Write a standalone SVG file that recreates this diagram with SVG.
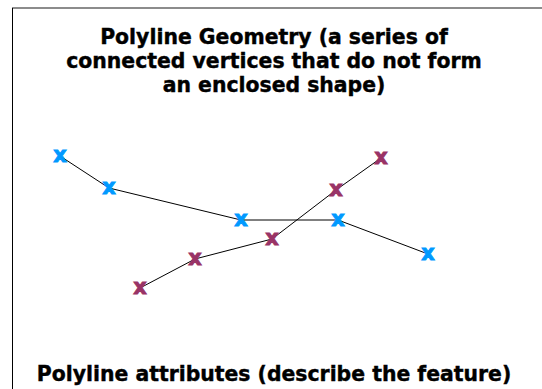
<svg xmlns="http://www.w3.org/2000/svg" width="542" height="389" viewBox="0 0 542 389">
<style>
.t{font-family:"DejaVu Sans",Verdana,sans-serif;font-weight:bold;font-size:20.4px;fill:#000;stroke:#000;stroke-width:0.4;text-anchor:middle}
.m{font-family:"DejaVu Sans",Verdana,sans-serif;font-weight:bold;font-size:21px;stroke-width:0.9;text-anchor:middle}
.b{fill:#0099FF;stroke:#0099FF}
.p{fill:#993366;stroke:#993366}
.ln{fill:none;stroke:#000;stroke-width:1}
</style>
<rect width="542" height="389" fill="#fff"/>
<line x1="12" y1="8" x2="542" y2="8" stroke="#8c8c8c" stroke-width="2"/>
<line x1="12.5" y1="8" x2="12.5" y2="389" stroke="#000" stroke-width="1"/>
<g id="title">
<text class="t" x="274" y="44">Polyline Geometry (a series of</text>
<text class="t" x="274" y="68">connected vertices that do not form</text>
<text class="t" x="274" y="92">an enclosed shape)</text>
</g>
<g id="connectors">
<polyline class="ln" points="60,156 109,188 241,220 338,220 428,254"/>
<polyline class="ln" points="140,288 195,259 272,239 336,190 381,158"/>
</g>
<g id="blue-vertices">
<text class="m b" x="60" y="162">x</text>
<text class="m b" x="109" y="194">x</text>
<text class="m b" x="241" y="226">x</text>
<text class="m b" x="338" y="226">x</text>
<text class="m b" x="428" y="260">x</text>
</g>
<g id="purple-vertices">
<text class="m p" x="140" y="294">x</text>
<text class="m p" x="195" y="265">x</text>
<text class="m p" x="272" y="245">x</text>
<text class="m p" x="336" y="196">x</text>
<text class="m p" x="381" y="164">x</text>
</g>
<g id="footer">
<text class="t" x="274" y="381">Polyline attributes (describe the feature)</text>
</g>
</svg>
